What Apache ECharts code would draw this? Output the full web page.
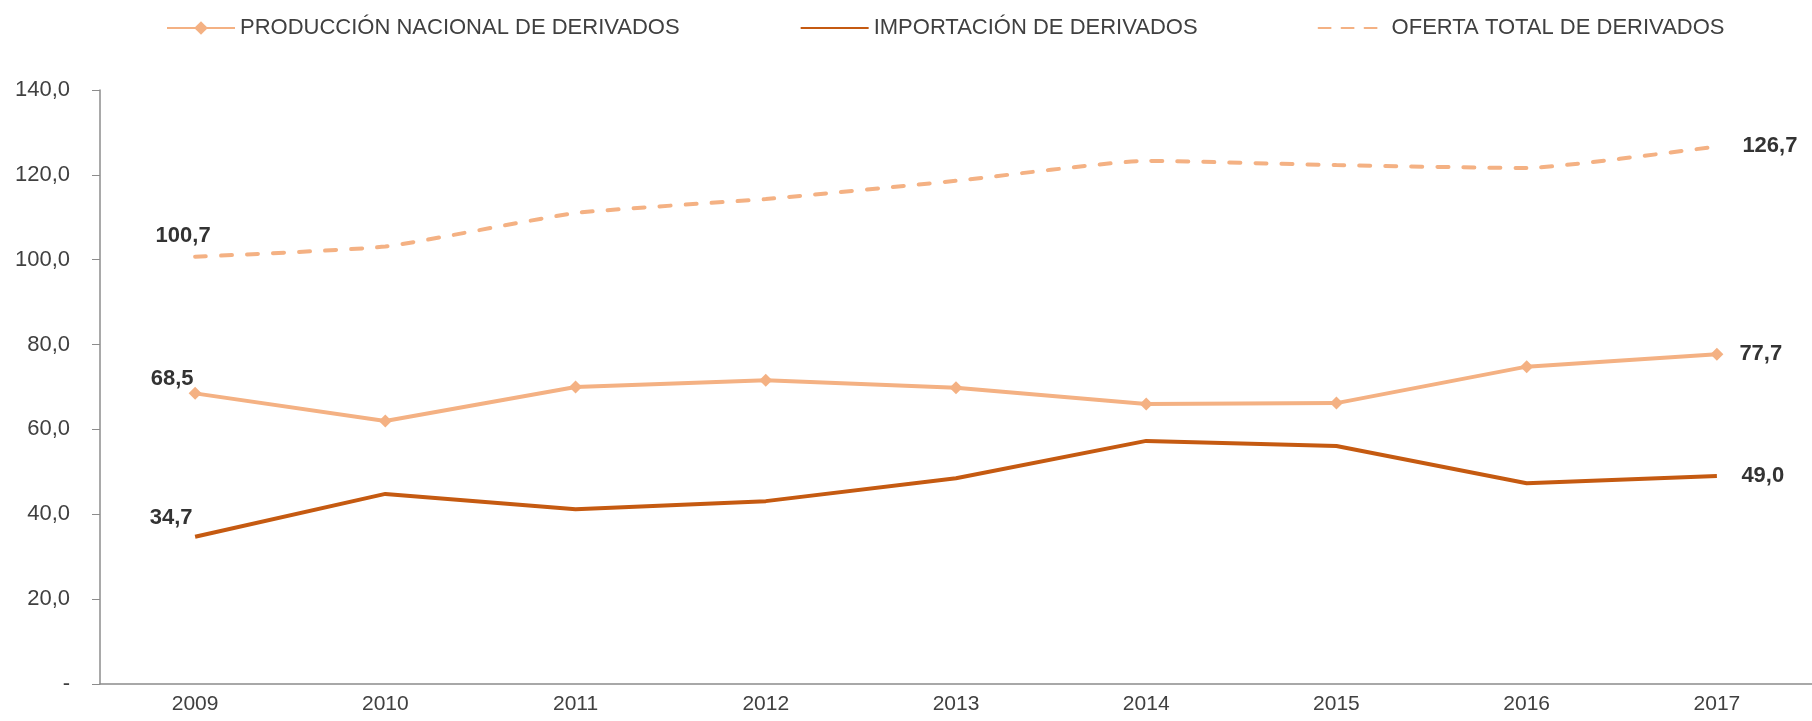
<!DOCTYPE html>
<html>
<head>
    <meta charset="utf-8">
    <title>Derivados</title>
    <script src="https://cdn.jsdelivr.net/npm/echarts@6/dist/echarts.min.js"></script>
    <style>
        html, body { margin: 0; padding: 0; background: #fff; }
    </style>
</head>
<body>
    <div id="main" style="width: 1812px;height:721px;"></div>
    <script type="text/javascript">
        var years = ['2009', '2010', '2011', '2012', '2013', '2014', '2015', '2016', '2017'];
        var produccion = [68.5, 62.0, 70.0, 71.6, 69.8, 66.0, 66.2, 74.8, 77.7];
        var importacion = [34.7, 44.8, 41.2, 43.1, 48.5, 57.3, 56.1, 47.3, 49.0];
        var oferta = [100.7, 103.1, 111.0, 114.3, 118.6, 123.3, 122.3, 121.6, 126.7];
        var seriesNames = ['PRODUCCIÓN NACIONAL DE DERIVADOS', 'IMPORTACIÓN DE DERIVADOS', 'OFERTA TOTAL DE DERIVADOS'];

        var font = '"Liberation Sans", Arial, sans-serif';
        var textColor = '#404040';
        var light = '#F4B183';
        var dark = '#C55A11';

        function fmt(v) {
            return v.toFixed(1).replace('.', ',');
        }

        // etiquetas solo en el primer y último año
        function withLabels(values, firstOffset, lastDistance) {
            return values.map(function (v, i) {
                if (i === 0) {
                    return { value: v, label: { show: true, position: 'top', offset: firstOffset } };
                }
                if (i === values.length - 1) {
                    return { value: v, label: { show: true, position: 'right', distance: lastDistance } };
                }
                return v;
            });
        }

        var labelStyle = {
            show: false,
            fontFamily: font,
            fontWeight: 'bold',
            fontSize: 22,
            color: '#333333',
            formatter: function (p) { return fmt(p.value); }
        };

        var myChart = echarts.init(document.getElementById('main'));

        var option = {
            backgroundColor: '#ffffff',
            animation: false,
            legend: {
                top: 12,
                left: 161,
                itemWidth: 68,
                itemHeight: 17,
                itemGap: 120,
                textStyle: { fontFamily: font, fontSize: 22, color: textColor },
                data: [
                    { name: seriesNames[0] },
                    { name: seriesNames[1], itemStyle: { opacity: 0 } },
                    { name: seriesNames[2], itemStyle: { opacity: 0 }, lineStyle: { type: [12, 11] } }
                ]
            },
            grid: { left: 100, right: -7, top: 90, bottom: 37 },
            xAxis: {
                type: 'category',
                data: years,
                boundaryGap: true,
                axisLine: { lineStyle: { color: '#8c8c8c', width: 1.5 } },
                axisTick: { length: 10, lineStyle: { color: '#8c8c8c' } },
                axisLabel: { margin: 10, fontFamily: font, fontSize: 21, color: textColor }
            },
            yAxis: {
                type: 'value',
                min: 0,
                max: 140,
                interval: 20,
                splitLine: { show: false },
                axisLine: { show: true, lineStyle: { color: '#8c8c8c', width: 1.5 } },
                axisTick: { show: true, length: 8, lineStyle: { color: '#8c8c8c' } },
                axisLabel: {
                    margin: 30,
                    fontFamily: font,
                    fontSize: 22,
                    color: textColor,
                    formatter: function (v) { return v === 0 ? '-' : fmt(v); }
                }
            },
            series: [{
                name: seriesNames[0],
                type: 'line',
                symbol: 'diamond',
                symbolSize: 13,
                itemStyle: { color: light },
                lineStyle: { color: light, width: 4 },
                label: labelStyle,
                data: withLabels(produccion, [-23, 8], 16)
            }, {
                name: seriesNames[1],
                type: 'line',
                symbol: 'circle',
                symbolSize: 1,
                itemStyle: { color: 'rgba(0,0,0,0)' },
                lineStyle: { color: dark, width: 4 },
                label: labelStyle,
                data: withLabels(importacion, [-24, -2], 24)
            }, {
                name: seriesNames[2],
                type: 'line',
                symbol: 'circle',
                symbolSize: 1,
                smooth: 0.15,
                itemStyle: { color: 'rgba(0,0,0,0)' },
                lineStyle: { color: light, width: 4, type: [11, 15], cap: 'round' },
                label: labelStyle,
                data: withLabels(oferta, [-12, -4], 25)
            }]
        };

        myChart.setOption(option);
    </script>
</body>
</html>
